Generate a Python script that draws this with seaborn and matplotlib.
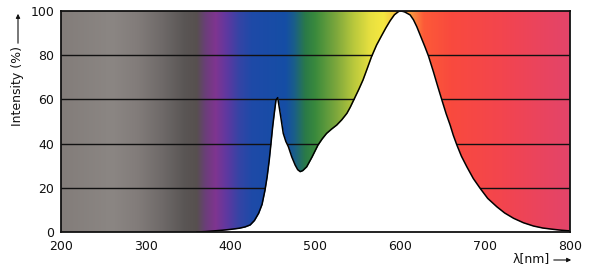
import numpy as np
import pandas as pd
import matplotlib
matplotlib.use("Agg")
import matplotlib.pyplot as plt
from matplotlib.colors import LinearSegmentedColormap
import seaborn as sns

# ---- data ----
wavelength = [360, 370, 380, 390, 400, 410, 417, 423, 428, 433, 437, 440.5, 443, 445.5,
              447.5, 449.5, 451.5, 453.4, 455.4, 457, 459, 462, 465, 468, 472, 476,
              479, 482, 485, 489.6, 496, 503, 508, 513, 519, 525, 531, 537, 541, 545,
              551, 556, 561, 566, 572, 578, 583, 588, 593, 598, 601, 605, 611.6,
              615.5, 619.4, 625.3, 629, 633.2, 639, 644, 649, 654, 658.7, 662.5, 666.6,
              672, 678.4, 686, 694, 703, 713.8, 723, 733.5, 745, 757, 768, 780.5,
              790, 800]
intensity = [0.0, 0.2, 0.5, 0.8, 1.2, 1.7, 2.3, 3.2, 5.2, 8.5, 12.5, 19, 25, 32.6,
             40, 47.6, 54, 59.7, 60.8, 57, 52.2, 44.6, 41, 38.6, 34, 30.3,
             28.2, 27.3, 27.8, 29.5, 34, 39.4, 42.2, 44.6, 46.6, 48.4, 50.8, 53.7, 56.5, 59.7,
             64.5, 68.8, 74, 79.3, 84.6, 88.9, 92.4, 95.6, 98.3, 99.8, 100, 99.6, 98.2,
             96, 92.9, 87.3, 83.8, 79.6, 72.5, 66, 59.7, 53.5, 48.4, 43.7, 39.4,
             34.3, 29.5, 24.2, 19.8, 15.2, 11.4, 8.6, 6.2, 4.2, 2.7, 1.8, 1.2,
             0.8, 0.5]

spectrum_nm = [200, 260, 290, 320, 345, 360, 370, 382, 395, 410, 425, 465, 475, 488,
               500, 525, 545, 565, 580, 595, 612, 628, 660, 720, 800]
spectrum_colors = ["#837d7a", "#8b8683", "#827c7a", "#6e6968", "#5a5655", "#57504f",
                   "#6a3f78", "#7f3590", "#6038a0", "#3544a5", "#1e4aa8", "#154ea5",
                   "#1a5e8a", "#2a7a48", "#3a8a3c", "#7ea83c", "#b8c83c", "#e8e040",
                   "#f5e840", "#f8c040", "#fb9a40", "#fd5a38", "#f94a3e", "#f3454e",
                   "#e3446a"]

x_ticks = [200, 300, 400, 500, 600, 700, 800]
y_ticks = [0, 20, 40, 60, 80, 100]

df = pd.DataFrame({"wavelength": wavelength, "intensity": intensity})

sns.set_style("white")
plt.rcParams['font.family'] = ['DejaVu Sans']

fig = plt.figure(figsize=(6, 2.8), dpi=100)
ax = fig.add_axes([61/600, 1-232/280, (570-61)/600, (232-11)/280])

# background spectrum
lo, hi = spectrum_nm[0], spectrum_nm[-1]
cmap = LinearSegmentedColormap.from_list(
    "spec", [((n - lo) / (hi - lo), c) for n, c in zip(spectrum_nm, spectrum_colors)], N=1024)
grad = np.linspace(0, 1, 1024)[None, :]
ax.imshow(grad, cmap=cmap, aspect="auto", extent=[lo, hi, 0, 100], zorder=0)

# gridlines
for yv in y_ticks[1:-1]:
    ax.axhline(yv, color="#111111", lw=1.0, zorder=1)

# white area under curve
ax.fill_between(df["wavelength"], df["intensity"], 0, color="white", zorder=2, lw=0)
sns.lineplot(data=df, x="wavelength", y="intensity", ax=ax, color="black", lw=1.1,
             zorder=3)

ax.set_xlim(200, 800)
ax.set_ylim(0, 100)
ax.set_xticks(x_ticks)
ax.set_yticks(y_ticks)
ax.tick_params(axis="both", length=0, labelsize=9, colors="#111111")
ax.tick_params(axis="y", pad=5)
ax.tick_params(axis="x", pad=6)
ax.set_xlabel("")
ax.set_ylabel("")
for s in ax.spines.values():
    s.set_color("#111111")
    s.set_linewidth(1.3)
    s.set_zorder(5)

# axis labels with arrows
fig.text(18/600, 1-86/280, "Intensity (%)", rotation=90, ha="center", va="center",
         fontsize=9, color="#111111")
fig.text(531/600, 1-259/280, "λ[nm]", ha="center", va="center", fontsize=9,
         color="#111111")
ax.annotate("", xy=(18/600, 1-11/280), xytext=(18/600, 1-46/280),
            xycoords="figure fraction", textcoords="figure fraction",
            arrowprops=dict(arrowstyle="-|>", lw=0.8, color="#111111", mutation_scale=6))
ax.annotate("", xy=(574/600, 1-260/280), xytext=(551/600, 1-260/280),
            xycoords="figure fraction", textcoords="figure fraction",
            arrowprops=dict(arrowstyle="-|>", lw=0.8, color="#111111", mutation_scale=6))

fig.savefig("out.png", dpi=100)
